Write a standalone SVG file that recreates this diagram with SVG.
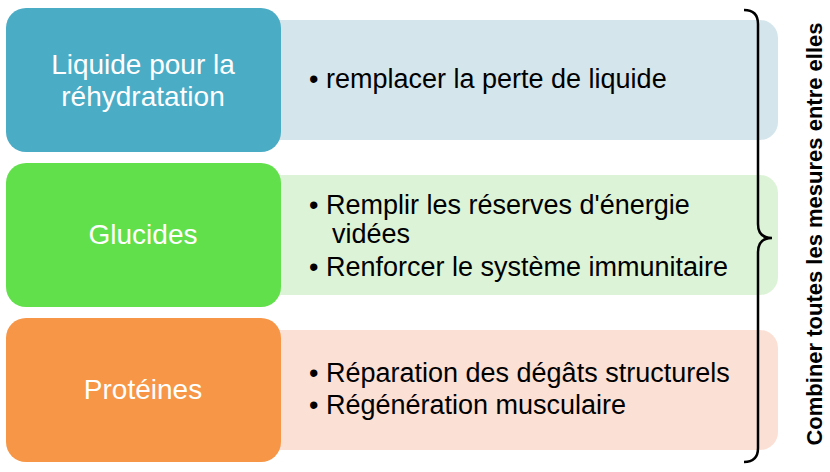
<svg xmlns="http://www.w3.org/2000/svg" width="830" height="472" viewBox="0 0 830 472">
<style>
text{font-family:"Liberation Sans",Arial,sans-serif;font-size:27px}
.l{fill:#fff;text-anchor:middle;font-size:28px}
.r{fill:#000}
</style>
<rect width="830" height="472" fill="#fff"/>
<g id="detail1"><rect x="262" y="20" width="516" height="120" rx="18" fill="#D5E5EC"/><text class="r" x="309" y="88">• remplacer la perte de liquide</text></g>
<g id="detail2"><rect x="262" y="175" width="516" height="120" rx="18" fill="#DDF3D7"/><text class="r" x="309" y="214">• Remplir les réserves d'énergie</text><text class="r" x="332" y="243">vidées</text><text class="r" x="309" y="276">• Renforcer le système immunitaire</text></g>
<g id="detail3"><rect x="262" y="330" width="516" height="120" rx="18" fill="#FBE0D5"/><text class="r" x="309" y="382">• Réparation des dégâts structurels</text><text class="r" x="309" y="414">• Régénération musculaire</text></g>
<g id="node1"><rect x="6" y="8" width="275" height="144" rx="20" fill="#4BACC6"/><text class="l" x="143" y="74">Liquide pour la</text><text class="l" x="143" y="106">réhydratation</text></g>
<g id="node2"><rect x="6" y="163" width="275" height="144" rx="20" fill="#62E04B"/><text class="l" x="143" y="244">Glucides</text></g>
<g id="node3"><rect x="6" y="318" width="275" height="144" rx="20" fill="#F79646"/><text class="l" x="143" y="399">Protéines</text></g>
<g id="connectors"><path d="M744 10 Q758 10 758 24 L758 224 Q758 238 772 238 Q758 238 758 252 L758 448 Q758 462 744 462" fill="none" stroke="#000" stroke-width="2.5"/></g>
<g id="label"><text x="822" y="234" transform="rotate(-90 822 234)" text-anchor="middle" font-weight="bold" style="font-size:22px">Combiner toutes les mesures entre elles</text></g>
</svg>
